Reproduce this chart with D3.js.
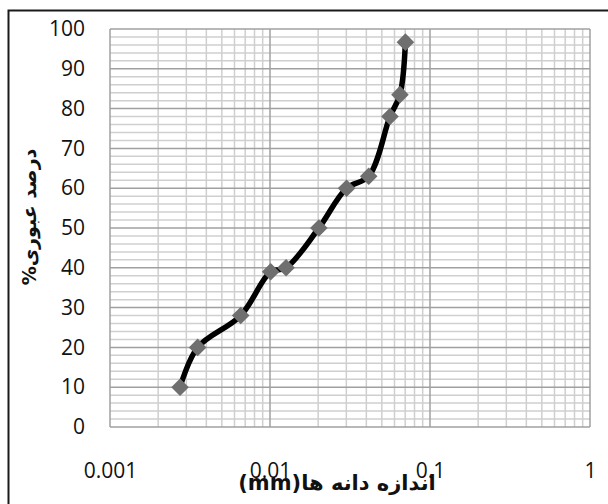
<!DOCTYPE html>
<html>
<head>
<meta charset="utf-8">
<script src="https://cdn.jsdelivr.net/npm/d3@7/dist/d3.min.js"></script>
<style>
  html, body { margin: 0; padding: 0; background: #fff; }
  svg { display: block; }
</style>
</head>
<body>
<svg id="chart" width="608" height="504"></svg>
<script>
// Grain size distribution (hydrometer / sieve) data
const grainSize = [0.00274, 0.00353, 0.00656, 0.0101, 0.0126, 0.0202, 0.0301, 0.0414, 0.0562, 0.0649, 0.0702];
const percentPassing = [10, 20, 28, 39, 40, 50, 60, 63, 78, 83.5, 96.7];
const xTickValues = [0.001, 0.01, 0.1, 1];
const xTickLabels = ["0.001", "0.01", "0.1", "1"];
const yTickValues = [0, 10, 20, 30, 40, 50, 60, 70, 80, 90, 100];
const xTitle = "اندازه دانه ها(mm)";
const yTitle = "درصد عبوری%";

const svg = d3.select("#chart");
const plot = { left: 110, top: 29, right: 590, bottom: 427 };

const x = d3.scaleLog().domain([0.001, 1]).range([plot.left, plot.right]);
const y = d3.scaleLinear().domain([0, 100]).range([plot.bottom, plot.top]);

// Outer chart frame
svg.append("rect")
  .attr("x", 8.5).attr("y", 10.5)
  .attr("width", 700).attr("height", 600)
  .attr("fill", "none").attr("stroke", "#1a1a1a").attr("stroke-width", 2);

// Minor grid: every 2 % vertically, 2..9 within each decade horizontally
const yMinor = d3.range(0, 101, 2).filter(v => v % 10 !== 0);
const xMinor = [];
[0.001, 0.01, 0.1].forEach(d => { for (let k = 2; k <= 9; k++) xMinor.push(d * k); });

const grid = svg.append("g");
grid.selectAll(".ymin").data(yMinor).join("line")
  .attr("x1", plot.left).attr("x2", plot.right)
  .attr("y1", d => y(d)).attr("y2", d => y(d))
  .attr("stroke", "#cfcfcf").attr("stroke-width", 1.5);
grid.selectAll(".xmin").data(xMinor).join("line")
  .attr("x1", d => x(d)).attr("x2", d => x(d))
  .attr("y1", plot.top).attr("y2", plot.bottom)
  .attr("stroke", "#cfcfcf").attr("stroke-width", 1.5);
grid.selectAll(".ymaj").data(yTickValues).join("line")
  .attr("x1", plot.left).attr("x2", plot.right)
  .attr("y1", d => y(d)).attr("y2", d => y(d))
  .attr("stroke", "#a0a0a0").attr("stroke-width", 1.5);
grid.selectAll(".xmaj").data(xTickValues).join("line")
  .attr("x1", d => x(d)).attr("x2", d => x(d))
  .attr("y1", plot.top).attr("y2", plot.bottom)
  .attr("stroke", "#a0a0a0").attr("stroke-width", 1.5);

// Axes (labels only)
const yAxis = d3.axisLeft(y).tickValues(yTickValues).tickSize(0).tickPadding(0);
svg.append("g")
  .attr("transform", `translate(${plot.left - 25},0)`)
  .call(yAxis)
  .call(g => g.select(".domain").remove())
  .selectAll("text")
  .attr("font-family", "'Open Sans', sans-serif")
  .attr("font-size", 21).attr("fill", "#111");

const xAxis = d3.axisBottom(x).tickValues(xTickValues)
  .tickFormat((d, i) => xTickLabels[i]).tickSize(0).tickPadding(0);
svg.append("g")
  .attr("transform", `translate(0,${plot.bottom + 36})`)
  .call(xAxis)
  .call(g => g.select(".domain").remove())
  .selectAll("text")
  .attr("font-family", "'Open Sans', sans-serif")
  .attr("font-size", 21).attr("fill", "#111");

// Data series
const pts = grainSize.map((g, i) => [x(g), y(percentPassing[i])]);
svg.append("path")
  .attr("d", d3.line().curve(d3.curveCatmullRom.alpha(0.5))(pts))
  .attr("fill", "none").attr("stroke", "#000").attr("stroke-width", 5.5)
  .attr("stroke-linejoin", "round");

const diamond = d3.symbol().type(d3.symbolSquare).size(155);
svg.selectAll(".mk").data(pts).join("path")
  .attr("d", diamond)
  .attr("transform", d => `translate(${d[0]},${d[1]}) rotate(45)`)
  .attr("fill", "#6f6f6f");

// Axis titles
svg.append("text")
  .attr("transform", "translate(36,217) rotate(-90)")
  .attr("text-anchor", "middle")
  .attr("direction", "rtl")
  .attr("font-family", "'DejaVu Sans', sans-serif")
  .attr("font-weight", "bold").attr("font-size", 19).attr("fill", "#111")
  .text(yTitle);

svg.append("text")
  .attr("x", 337).attr("y", 490)
  .attr("text-anchor", "middle")
  .attr("direction", "rtl")
  .attr("font-family", "'DejaVu Sans', sans-serif")
  .attr("font-weight", "bold").attr("font-size", 21).attr("fill", "#111")
  .text(xTitle);
</script>
</body>
</html>
